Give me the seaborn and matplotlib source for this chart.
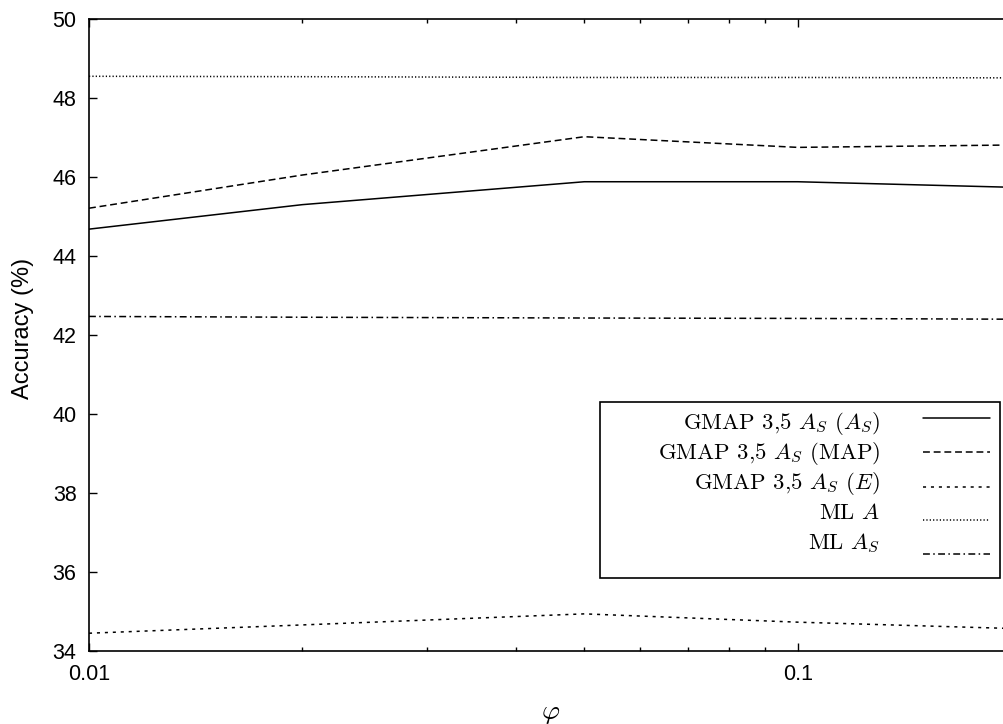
import numpy as np
import pandas as pd
import matplotlib
matplotlib.use("Agg")
import matplotlib.pyplot as plt
import seaborn as sns
from matplotlib.patches import Rectangle
from matplotlib.lines import Line2D
from matplotlib.ticker import FixedLocator, FixedFormatter, LogLocator, NullFormatter

# ---------------- data ----------------
phi = [0.01, 0.02, 0.05, 0.1, 0.2]
gmap_as = [44.68, 45.30, 45.88, 45.88, 45.74]
gmap_map = [45.21, 46.05, 47.02, 46.75, 46.81]
gmap_e = [34.45, 34.66, 34.94, 34.73, 34.57]
ml_a = [48.55, 48.54, 48.52, 48.52, 48.51]
ml_as = [42.47, 42.45, 42.43, 42.42, 42.40]

labels = [r'GMAP 3,5 $A_S$ ($A_S$)', r'GMAP 3,5 $A_S$ (MAP)', r'GMAP 3,5 $A_S$ ($E$)',
          r'ML $A$', r'ML $A_S$']
series = [gmap_as, gmap_map, gmap_e, ml_a, ml_as]
styles = ['-', (0, (4.5, 2.5)), (0, (2.0, 3.2)), (0, (0.8, 1.4)), (0, (4.5, 2.2, 1.0, 2.2))]

xticks = [0.01, 0.1]
xticklabels = ['0.01', '0.1']
yticks = [34, 36, 38, 40, 42, 44, 46, 48, 50]

sns.set_theme(style="white")
plt.rcParams['font.family'] = ['Liberation Sans', 'DejaVu Sans']
plt.rcParams['mathtext.fontset'] = 'cm'

W, H = 1004, 724
fig = plt.figure(figsize=(W / 100, H / 100), dpi=100)
L, R, T, B = 89, 1011, 19, 651
ax = fig.add_axes([L / W, (H - B) / H, (R - L) / W, (B - T) / H])

df = pd.DataFrame({'phi': phi * len(series),
                   'acc': sum(series, []),
                   'label': sum([[l] * len(phi) for l in labels], [])})

for lab, ls in zip(labels, styles):
    sub = df[df['label'] == lab]
    sns.lineplot(data=sub, x='phi', y='acc', ax=ax, color='black', linewidth=1.1,
                 linestyle=ls, legend=False)

ax.set_xscale('log')
ax.set_xlim(0.01, 0.2)
ax.set_ylim(34, 50)

ax.xaxis.set_major_locator(FixedLocator(xticks))
ax.xaxis.set_major_formatter(FixedFormatter(xticklabels))
ax.xaxis.set_minor_locator(LogLocator(base=10, subs=np.arange(2, 10)))
ax.xaxis.set_minor_formatter(NullFormatter())
ax.set_yticks(yticks)
ax.set_yticklabels([str(v) for v in yticks])

ax.tick_params(axis='both', which='major', direction='in', length=6, width=1.0,
               labelsize=15.5, pad=9, color='black', labelcolor='black',
               top=True, right=True, bottom=True, left=True)
ax.tick_params(axis='x', which='major', pad=9)
ax.tick_params(axis='x', which='minor', direction='in', length=3, width=1.0,
               top=True, bottom=True, color='black')

for s in ax.spines.values():
    s.set_color('black')
    s.set_linewidth(1.2)


def axx(px):
    return (px - L) / (R - L)


def axy(py):
    return (B - py) / (B - T)


ax.set_ylabel('Accuracy (%)', fontsize=17, color='black')
ax.yaxis.set_label_coords(axx(23), axy(328))
ax.yaxis.label.set_va('center')
ax.yaxis.label.set_ha('center')
ax.set_xlabel(r'$\varphi$', fontsize=20, color='black')
ax.xaxis.set_label_coords(axx(551), axy(713))
ax.xaxis.label.set_va('center')

# gnuplot-style key box
ax.add_patch(Rectangle((axx(600), axy(578)), axx(1000) - axx(600), axy(402) - axy(578),
                       transform=ax.transAxes, facecolor='white', edgecolor='black',
                       linewidth=1.2, zorder=4))

text_base = [429, 459, 489, 519, 549]
handle_y = [418, 452, 487, 520, 554]
for lab, ls, tb, hy in zip(labels, styles, text_base, handle_y):
    ax.text(axx(880), axy(tb), lab, transform=ax.transAxes, ha='right', va='baseline',
            family='cmr10', fontsize=16.4, color='black', zorder=5)
    ax.add_line(Line2D([axx(923), axx(990)], [axy(hy), axy(hy)], transform=ax.transAxes,
                       color='black', linewidth=1.1, linestyle=ls, zorder=5))

fig.savefig('out.png', dpi=100)
